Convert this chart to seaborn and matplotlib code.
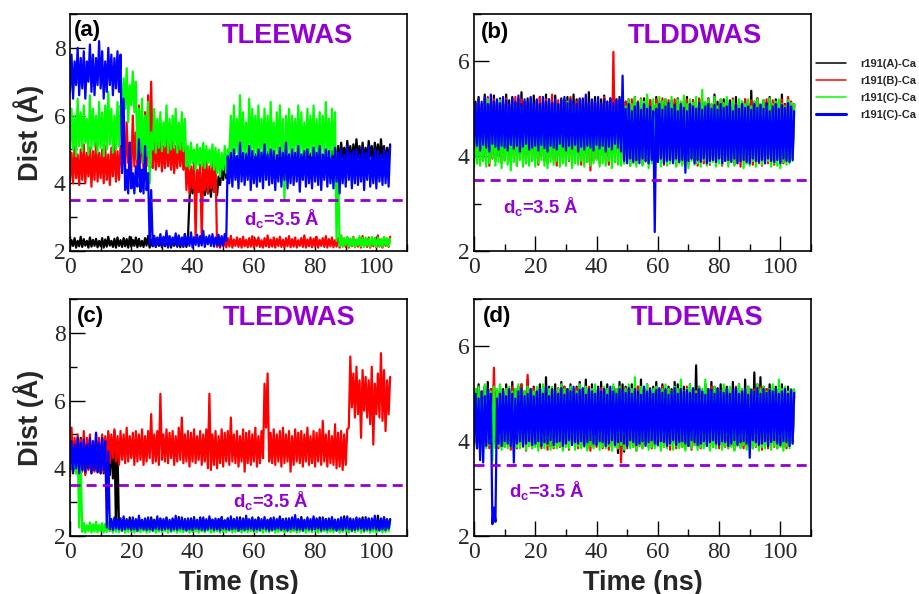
import numpy as np
import pandas as pd
import matplotlib
matplotlib.use("Agg")
import matplotlib.pyplot as plt
import seaborn as sns
from matplotlib.ticker import MultipleLocator

# ---------------- data ----------------
# For every 1 ns window: the lowest (lo) and highest (hi) distance of the trace.
time_ns = np.arange(0, 105)

# ---- panel (a) TLEEWAS ----
a_A_lo = [2.12,2.15,2.1,2.14,2.12,2.16,2.1,2.13,2.15,2.11,
          2.14,2.1,2.13,2.16,2.12,2.1,2.15,2.12,2.14,2.1,
          2.13,2.15,2.11,2.14,2.12,2.16,2.1,2.14,2.12,2.15,
          2.11,2.14,2.12,2.1,2.15,2.13,2.11,2.14,2.12,
          3.55,3.7,3.6,3.75,3.5,3.65,3.7,3.6,3.75,3.65,
          3.95,4.1,4.15,
          4.35,4.45,4.4,4.5,4.35,4.4,4.45,4.38,4.42,4.4,
          4.45,4.35,4.4,4.5,4.38,4.42,4.36,4.48,4.4,4.44,
          4.38,4.46,4.4,4.35,4.45,4.42,4.38,4.5,4.4,4.36,
          4.44,4.4,4.38,4.46,4.42,
          4.7,4.6,4.75,4.65,4.8,4.6,4.7,4.75,4.62,4.7,
          4.68,4.8,4.6,4.72,4.66,4.75,4.6,4.7]
a_A_hi = [2.32,2.38,2.3,2.42,2.35,2.3,2.4,2.33,2.36,2.3,
          2.38,2.34,2.42,2.3,2.36,2.4,2.32,2.38,2.35,2.42,
          2.33,2.4,2.36,2.3,2.38,2.45,2.34,2.4,2.36,2.3,
          2.38,2.34,2.42,2.36,2.3,2.4,2.35,2.5,2.38,
          4.1,4.25,4.0,4.3,4.15,4.2,4.05,4.3,4.1,4.2,
          4.5,4.6,4.55,
          4.85,4.9,4.8,4.92,4.85,4.88,4.8,4.9,4.86,4.82,
          4.9,4.85,4.92,4.8,4.88,4.84,4.9,4.82,4.88,4.85,
          4.92,4.8,4.88,4.84,4.9,4.82,4.88,4.92,4.82,4.9,
          4.84,4.9,4.85,4.95,5.0,
          5.1,5.2,5.05,5.25,5.1,5.15,5.3,5.1,5.2,5.05,
          5.25,5.1,5.2,5.15,5.3,5.1,5.05,5.15]
a_B_lo = [4.05,4.0,4.15,3.95,4.1,4.0,4.2,3.9,4.1,4.05,4.15,4.0,4.1,3.95,4.2,4.05,4.1,
          4.5,4.4,4.6,4.3,4.5,4.45,4.6,4.35,4.5,
          4.8,
          4.45,4.4,4.5,4.35,4.45,4.5,4.4,4.3,4.45,4.5,4.4,
          3.8,3.7,3.85,2.4,3.75,2.35,3.8,3.7,3.85,3.75,
          2.12,2.1,2.14,2.11,2.13,2.1,2.15,2.12,2.1,2.14,
          2.11,2.13,2.1,2.15,2.12,2.1,2.14,2.11,2.13,2.1,
          2.15,2.12,2.1,2.14,2.11,2.13,2.1,2.15,2.12,2.1,
          2.14,2.11,2.13,2.1,2.15,2.12,2.1,2.14,2.11,2.13,
          2.1,2.15,2.12,2.1,2.14,2.11,2.13,2.1,2.15,2.12,
          2.1,2.14,2.11,2.13,2.1,2.15,2.12]
a_B_hi = [4.9,5.1,4.85,5.0,5.15,4.9,5.05,4.95,5.2,4.9,5.0,5.1,4.85,5.05,5.2,4.95,5.1,
          5.3,5.8,5.2,6.0,5.5,6.3,5.6,6.1,6.6,
          7.0,
          5.4,5.2,5.3,5.1,5.35,5.2,5.25,5.1,5.3,5.2,5.15,
          4.6,4.5,4.65,4.4,4.55,4.6,4.7,4.5,4.6,4.65,
          2.35,2.4,2.32,2.38,2.45,2.34,2.4,2.36,2.42,2.33,
          2.38,2.44,2.35,2.4,2.32,2.38,2.46,2.34,2.4,2.36,
          2.42,2.33,2.38,2.44,2.35,2.4,2.32,2.38,2.46,2.34,
          2.4,2.36,2.42,2.33,2.38,2.44,2.35,2.4,2.32,2.38,
          2.46,2.34,2.4,2.36,2.42,2.33,2.38,2.44,2.35,2.4,
          2.32,2.38,2.46,2.34,2.4,2.36,2.42]
a_C_lo = [4.9,5.0,4.8,5.1,4.95,5.2,4.85,5.0,5.1,4.9,5.05,4.8,5.0,5.15,4.9,5.0,5.1,
          6.0,6.2,5.8,6.3,6.1,
          4.7,4.9,4.6,4.8,
          4.0,
          5.0,4.9,5.05,4.95,5.1,4.9,5.0,5.05,4.9,5.0,4.95,
          4.5,4.45,4.6,4.4,4.55,4.5,4.45,4.6,4.5,4.4,
          4.3,4.2,4.4,4.3,
          4.8,4.7,4.9,4.75,4.85,4.7,4.9,4.8,4.75,4.85,
          4.7,4.9,4.8,4.75,4.85,4.7,4.9,4.8,3.5,4.85,
          4.7,4.9,4.8,4.75,4.85,4.7,4.9,4.8,4.75,4.85,
          4.7,4.9,4.8,4.75,4.85,
          2.3,
          2.15,2.12,2.18,2.13,2.16,2.12,2.17,2.14,2.12,2.16,
          2.13,2.18,2.12,2.15,2.13,2.17,2.14]
a_C_hi = [6.2,6.0,6.5,6.1,6.3,5.9,6.6,6.2,6.0,6.4,6.1,6.3,6.7,6.2,6.0,6.4,6.3,
          7.1,7.4,6.9,7.3,7.0,
          6.2,6.5,6.0,6.4,
          5.5,
          6.2,5.9,6.1,5.8,6.3,5.9,6.0,6.2,5.8,6.1,5.9,
          5.1,5.2,5.0,5.15,5.05,5.2,5.1,5.0,5.15,5.05,
          5.0,4.9,5.1,5.0,
          6.0,6.3,5.9,6.6,6.1,5.8,6.5,6.2,6.0,6.3,
          5.9,6.2,6.0,6.4,5.8,6.1,6.3,5.9,6.0,6.2,
          6.0,5.9,6.3,6.1,5.8,6.2,6.0,6.3,5.9,6.1,
          6.0,6.4,5.9,6.2,6.1,
          4.6,
          2.45,2.38,2.42,2.36,2.4,2.35,2.44,2.38,2.4,2.36,
          2.42,2.37,2.4,2.35,2.41,2.38,2.36]
a_C2_lo = [6.7,6.5,6.9,6.6,6.8,6.5,7.0,6.7,6.6,6.9,6.8,6.5,6.7,6.9,6.6,6.8,6.7,
           4.3,
           3.8,3.7,3.85,3.7,3.9,3.75,3.7,3.8,
           2.2,
           2.15,2.12,2.2,2.14,2.18,2.1,2.16,2.2,2.13,2.17,
           2.12,2.19,2.15,2.1,2.18,2.14,2.16,2.12,2.2,2.15,
           2.13,2.18,2.14,2.16,
           2.3,
           4.0,3.9,4.1,3.85,4.05,3.95,4.1,3.8,4.0,3.9,
           4.05,3.85,4.1,3.95,4.0,3.8,4.05,3.9,4.1,3.85,
           4.0,3.95,4.05,3.75,4.1,3.9,4.0,3.85,4.05,3.95,
           3.8,4.1,3.9,4.0,3.85,4.05,3.7,4.0,3.9,4.1,
           3.85,4.0,3.95,4.05,3.8,4.1,3.9,4.0,3.85,4.05,
           3.95,4.0,3.9]
a_C2_hi = [7.8,7.6,8.0,7.7,7.9,7.6,8.1,7.8,7.7,8.2,7.9,7.6,8.0,7.8,7.7,7.9,7.8,
           6.5,
           4.4,5.2,4.3,4.5,5.3,4.4,5.1,4.3,
           3.8,
           2.45,2.4,2.5,2.42,2.6,2.44,2.4,2.52,2.46,2.4,
           2.5,2.42,2.55,2.4,2.48,2.44,2.6,2.42,2.46,2.5,
           2.4,2.48,2.44,2.5,
           4.8,
           4.9,5.0,4.8,5.2,4.9,4.85,5.1,4.95,4.8,5.0,
           4.9,5.15,4.85,5.0,4.95,4.8,5.05,4.9,5.2,4.85,
           5.0,4.9,5.1,4.85,4.95,5.0,4.8,5.05,4.9,5.1,
           4.85,5.0,4.95,4.8,5.05,4.9,5.0,4.85,5.1,4.9,
           4.95,5.0,4.85,5.05,4.9,5.1,4.8,5.0,4.95,4.85,
           5.0,4.9,5.1]

# ---- panel (b) TLDDWAS ----
b_A_lo = [4.1,4.05,4.2,4.0,4.15,4.1,4.05,4.2,4.0,4.12,
          4.08,4.18,4.02,4.15,4.1,4.05,4.2,4.0,4.14,4.08,
          4.16,4.04,4.1,4.2,4.02,4.12,4.06,4.18,4.0,4.1,
          4.15,4.05,4.2,4.08,4.0,4.12,4.06,4.18,4.02,4.1,
          4.14,4.04,4.2,4.08,4.0,4.16,4.06,4.12,4.02,4.1,
          4.0,3.95,4.05,3.9,4.0,3.95,4.1,3.92,4.02,3.98,
          4.05,3.9,4.0,3.96,4.08,3.92,4.02,3.95,4.06,3.9,
          4.0,3.95,4.05,3.92,4.02,3.98,4.08,3.9,4.0,3.96,
          4.05,3.92,4.02,3.95,4.06,3.9,4.0,3.98,4.05,3.92,
          4.02,3.96,4.08,3.9,4.0,3.95,4.05,3.92,4.02,3.98,
          4.06,3.9,4.0,3.96,4.1]
b_A_hi = [5.15,5.25,5.1,5.3,5.2,5.12,5.28,5.15,5.22,5.1,
          5.3,5.18,5.25,5.12,5.2,5.35,5.15,5.22,5.1,5.28,
          5.18,5.25,5.12,5.3,5.2,5.15,5.28,5.1,5.22,5.18,
          5.25,5.12,5.3,5.2,5.15,5.22,5.1,5.35,5.18,5.25,
          5.12,5.2,5.28,5.15,5.22,5.3,5.1,5.25,5.2,5.15,
          5.2,5.1,5.25,5.15,5.05,5.22,5.12,5.18,5.08,5.25,
          5.15,5.1,5.2,5.05,5.18,5.12,5.22,5.08,5.15,5.25,
          5.1,5.18,5.05,5.2,5.15,5.12,5.22,5.08,5.3,5.15,
          5.1,5.2,5.05,5.18,5.12,5.25,5.08,5.15,5.2,5.1,
          5.38,5.15,5.22,5.08,5.18,5.12,5.25,5.1,5.2,5.15,
          5.3,5.1,5.22,5.15,5.1]
b_B_lo = [3.95,3.85,4.0,3.9,4.05,3.8,3.95,3.9,4.0,3.85,
          3.92,4.02,3.88,3.95,3.8,4.0,3.9,3.85,3.98,3.9,
          3.95,3.82,4.0,3.9,3.85,3.98,3.92,3.8,4.0,3.88,
          3.95,3.9,3.85,4.0,3.92,3.82,3.95,3.88,3.7,3.9,
          3.95,3.85,4.0,3.9,3.82,3.95,3.88,4.0,3.9,3.85,
          3.95,3.8,3.9,3.85,3.98,3.82,3.9,3.85,3.95,3.8,
          3.88,3.95,3.82,3.9,3.85,3.98,3.8,3.92,3.85,3.9,
          3.82,3.95,3.88,3.8,3.92,3.85,3.98,3.82,3.9,3.85,
          3.95,3.8,3.9,3.85,3.98,3.82,3.9,3.78,3.92,3.85,
          3.9,3.82,3.95,3.85,3.8,3.92,3.85,3.9,3.82,3.95,
          3.88,3.85,3.92,3.9,3.95]
b_B_hi = [5.1,5.2,5.05,5.15,5.25,5.1,5.2,5.05,5.18,5.1,
          5.22,5.08,5.15,5.25,5.1,5.2,5.12,5.05,5.22,5.1,
          5.15,5.25,5.08,5.2,5.12,5.3,5.1,5.18,5.05,5.2,
          5.12,5.25,5.08,5.15,5.2,5.1,5.25,5.05,5.18,5.12,
          5.2,5.1,5.25,5.08,5.15,6.2,5.2,5.1,5.25,5.15,
          5.1,5.2,5.05,5.15,5.22,5.1,5.25,5.18,5.08,5.2,
          5.12,5.22,5.1,5.18,5.05,5.2,5.12,5.15,5.08,5.2,
          5.1,5.18,5.05,5.22,5.12,5.08,5.2,5.1,5.15,5.05,
          5.2,5.12,5.18,5.08,5.22,5.1,5.15,5.05,5.2,5.12,
          5.18,5.08,5.22,5.1,5.15,5.2,5.05,5.18,5.12,5.1,
          5.2,5.08,5.25,5.15,5.1]
b_C_lo = [3.75,3.85,3.8,3.9,3.78,3.85,3.95,3.8,3.88,3.75,
          3.9,3.82,3.7,3.88,3.8,3.92,3.78,3.85,3.8,3.9,
          3.78,3.85,3.92,3.8,3.75,3.88,3.82,3.9,3.78,3.85,
          3.8,3.92,3.75,3.85,3.82,3.9,3.78,3.88,3.8,3.85,
          3.92,3.78,3.85,3.8,3.9,3.75,3.88,3.82,3.8,3.85,
          3.9,3.8,3.85,3.78,3.92,3.8,3.88,3.75,3.85,3.82,
          3.9,3.78,3.88,3.8,3.85,3.92,3.78,3.85,3.8,3.88,
          3.75,3.9,3.82,3.85,3.78,3.92,3.8,3.85,3.88,3.78,
          3.85,3.82,3.9,3.78,3.88,3.8,3.85,3.92,3.75,3.85,
          3.8,3.9,3.78,3.88,3.82,3.85,3.9,3.78,3.85,3.8,
          3.75,3.88,3.82,3.85,3.9]
b_C_hi = [5.0,5.15,4.95,5.1,5.2,5.0,5.12,4.95,5.18,5.05,
          5.1,4.98,5.15,5.05,5.2,5.0,5.1,4.95,5.15,5.05,
          5.12,5.0,5.18,4.98,5.1,5.05,5.15,5.0,5.1,4.95,
          5.15,5.05,5.1,5.0,5.18,4.98,5.12,5.05,5.1,5.0,
          5.15,4.98,5.1,5.05,5.12,5.0,5.15,4.95,5.1,5.05,
          5.2,5.1,5.25,5.05,5.2,5.15,5.3,5.05,5.2,5.1,
          5.25,5.15,5.2,5.1,5.25,5.05,5.2,5.15,5.28,5.1,
          5.2,5.12,5.25,5.05,5.4,5.15,5.2,5.1,5.25,5.05,
          5.2,5.12,5.25,5.1,5.18,5.05,5.2,5.15,5.1,5.2,
          5.05,5.15,5.2,5.1,5.18,5.05,5.22,5.1,5.15,5.2,
          5.1,5.05,5.18,5.12,5.1]
b_C2_lo = [4.17,4.22,4.12,4.24,4.18,4.1,4.26,4.2,4.14,4.22,
           4.18,4.12,4.24,4.16,4.22,4.1,4.2,4.26,4.14,4.18,
           4.22,4.12,4.24,4.17,4.1,4.22,4.18,4.14,4.26,4.2,
           4.12,4.22,4.16,4.24,4.1,4.2,4.14,4.22,4.18,4.12,
           4.24,4.16,4.22,4.1,4.2,4.14,4.26,4.18,4.1,
           3.9,3.85,3.95,3.88,3.92,3.85,3.95,3.9,3.85,3.92,
           2.4,3.88,3.95,3.85,3.9,3.92,3.85,3.95,3.88,3.92,
           3.65,3.9,3.95,3.85,3.92,3.88,3.95,3.85,3.9,3.92,
           3.88,3.95,3.85,3.9,3.92,3.88,3.95,3.85,3.9,3.92,
           3.88,3.85,3.95,3.9,3.88,3.92,3.85,3.95,3.9,3.88,
           3.92,3.85,3.95,3.9,3.88,3.92]
b_C2_hi = [5.1,5.2,5.15,5.25,5.1,5.3,5.15,5.2,5.12,5.25,
           5.18,5.1,5.22,5.15,5.28,5.1,5.2,5.15,5.25,5.12,
           5.2,5.1,5.25,5.15,5.2,5.12,5.22,5.1,5.18,5.25,
           5.12,5.2,5.15,5.1,5.22,5.18,5.3,5.12,5.2,5.15,
           5.25,5.1,5.2,5.15,5.22,5.12,5.2,5.18,5.7,
           5.0,5.1,4.95,5.05,5.12,4.98,5.1,5.0,5.05,4.95,
           5.0,5.1,4.98,5.05,5.12,5.0,5.08,4.95,5.1,5.02,
           4.95,5.1,5.05,5.0,5.12,4.98,5.05,5.1,5.0,5.08,
           4.98,5.1,5.02,5.05,5.12,4.95,5.08,5.0,5.1,5.02,
           5.05,4.98,5.1,5.02,5.08,5.0,5.12,4.95,5.05,5.1,
           5.0,5.08,5.02,5.12,5.05,4.95]

# ---- panel (c) TLEDWAS ----
c_A_lo = [3.95,3.85,4.0,3.9,3.95,3.85,4.0,3.9,3.95,3.88,3.9,3.85,3.75,3.8,3.7,
          2.2,
          2.18,2.2,2.16,2.22,2.18,2.2,2.15,2.2,2.18,2.22,
          2.16,2.2,2.18,2.15,2.22,2.18,2.2,2.16,2.2,2.18,
          2.22,2.16,2.2,2.18,2.15,2.2,2.22,2.18,2.16,2.2,
          2.18,2.22,2.15,2.2,2.18,2.16,2.22,2.2,2.18,2.15,
          2.2,2.18,2.22,2.16,2.2,2.18,2.15,2.22,2.2,2.18,
          2.16,2.2,2.18,2.22,2.15,2.2,2.18,2.16,2.22,2.2,
          2.18,2.15,2.2,2.22,2.18,2.16,2.2,2.18,2.22,2.15,
          2.2,2.18,2.16,2.22,2.2,2.18,2.15,2.2,2.22,2.18,
          2.16,2.2,2.18,2.22,2.15,2.2,2.18,2.16,2.2]
c_A_hi = [4.7,4.8,4.6,4.9,4.75,4.65,4.85,4.7,4.8,4.6,4.9,4.75,5.0,4.85,5.1,
          4.6,
          2.45,2.5,2.42,2.55,2.48,2.44,2.52,2.46,2.5,2.42,
          2.55,2.48,2.44,2.5,2.46,2.52,2.42,2.5,2.48,2.56,
          2.44,2.5,2.46,2.52,2.48,2.42,2.55,2.5,2.46,2.52,
          2.48,2.44,2.5,2.56,2.46,2.52,2.42,2.5,2.48,2.55,
          2.46,2.52,2.44,2.5,2.48,2.55,2.42,2.5,2.46,2.52,
          2.48,2.44,2.55,2.5,2.46,2.52,2.42,2.5,2.48,2.56,
          2.44,2.5,2.46,2.52,2.48,2.55,2.42,2.5,2.46,2.52,
          2.48,2.44,2.5,2.58,2.46,2.52,2.42,2.5,2.48,2.55,
          2.46,2.52,2.44,2.5,2.6,2.48,2.55,2.46,2.5]
c_B_lo = [3.75,3.9,3.85,4.0,3.9,3.8,3.95,3.85,3.9,4.0,3.85,3.9,
          4.2,4.15,4.3,4.2,4.1,4.25,4.15,4.2,4.3,4.1,
          4.2,4.25,4.1,4.2,4.3,4.15,4.2,4.1,4.25,4.2,
          4.15,4.3,4.1,4.2,4.25,4.15,4.2,4.05,4.2,4.15,
          4.25,4.1,4.2,4.0,3.95,4.1,4.0,4.15,4.05,4.2,
          4.1,4.2,4.15,4.05,4.2,3.9,4.15,4.1,4.2,4.05,
          4.15,4.3,5.2,4.2,4.15,4.1,4.2,4.05,4.15,4.2,
          3.9,4.1,4.2,4.15,4.05,4.2,4.1,4.15,4.05,4.2,
          4.1,4.2,4.05,4.15,4.1,4.0,4.05,3.95,4.1,5.2,
          5.8,5.5,5.6,4.9,5.7,5.5,5.3,4.7,5.6,5.5,5.4,5.1,5.6]
c_B_hi = [5.2,4.9,5.0,4.85,5.1,4.9,5.0,4.8,5.05,4.9,5.0,4.95,
          5.1,5.0,5.15,4.95,5.1,5.0,5.2,4.95,5.05,5.1,
          5.0,5.15,4.95,5.1,5.6,5.0,5.1,6.2,5.0,5.15,
          5.05,5.1,4.95,5.2,5.5,5.0,5.1,5.05,5.15,4.95,
          5.1,5.0,5.15,6.2,5.0,5.1,4.95,5.15,5.05,5.1,
          5.5,5.0,5.1,4.95,5.15,5.05,5.1,5.0,5.2,4.95,
          5.1,6.5,6.8,5.05,5.15,5.0,5.1,5.2,5.0,5.1,
          4.95,5.15,5.05,5.1,5.0,5.2,4.95,5.1,5.05,5.15,
          5.4,5.0,5.1,4.95,5.3,5.05,5.1,5.0,5.15,7.3,
          6.8,7.0,6.6,6.9,6.7,6.6,7.0,6.5,6.8,7.4,6.9,6.6,6.7]
c_C_lo = [3.9,4.0,3.85,
          2.25,
          2.12,2.1,2.14,2.1,2.13,2.11,2.15,2.1,2.12,2.14,
          2.1,2.13,2.11,2.15,2.1,2.12,2.14,2.1,2.13,2.11,
          2.15,2.1,2.12,2.14,2.1,2.13,2.11,2.15,2.1,2.12,
          2.14,2.1,2.13,2.11,2.15,2.1,2.12,2.14,2.1,2.13,
          2.11,2.15,2.1,2.12,2.14,2.1,2.13,2.11,2.15,2.1,
          2.12,2.14,2.1,2.13,2.11,2.15,2.1,2.12,2.14,2.1,
          2.13,2.11,2.15,2.1,2.12,2.14,2.1,2.13,2.11,2.15,
          2.1,2.12,2.14,2.1,2.13,2.11,2.15,2.1,2.12,2.14,
          2.1,2.13,2.11,2.15,2.1,2.12,2.14,2.1,2.13,2.11,
          2.15,2.1,2.12,2.14,2.1,2.13,2.11,2.15,2.1,2.12,
          2.14]
c_C_hi = [4.5,4.4,4.6,
          4.2,
          2.38,2.32,2.4,2.35,2.42,2.33,2.38,2.36,2.4,2.34,
          2.38,2.42,2.33,2.36,2.4,2.35,2.38,2.32,2.42,2.36,
          2.34,2.4,2.38,2.33,2.42,2.36,2.35,2.4,2.38,2.32,
          2.42,2.36,2.34,2.4,2.38,2.45,2.36,2.35,2.4,2.38,
          2.32,2.42,2.36,2.34,2.4,2.38,2.33,2.42,2.36,2.35,
          2.4,2.38,2.32,2.42,2.36,2.34,2.4,2.38,2.33,2.42,
          2.36,2.35,2.4,2.38,2.32,2.42,2.36,2.34,2.4,2.38,
          2.33,2.42,2.36,2.35,2.4,2.38,2.32,2.42,2.36,2.34,
          2.4,2.38,2.33,2.42,2.36,2.35,2.4,2.38,2.32,2.42,
          2.36,2.34,2.4,2.38,2.33,2.42,2.36,2.35,2.4,2.38,
          2.36]
c_C2_lo = [3.95,3.9,4.0,3.85,3.95,3.9,4.0,3.85,3.95,3.9,3.85,3.95,
           2.25,
           2.2,2.18,2.22,2.2,2.16,2.2,2.22,2.18,2.2,2.16,
           2.22,2.2,2.18,2.2,2.16,2.22,2.2,2.18,2.2,2.22,
           2.16,2.2,2.18,2.22,2.2,2.16,2.2,2.18,2.22,2.2,
           2.18,2.16,2.2,2.22,2.18,2.2,2.16,2.22,2.2,2.18,
           2.2,2.22,2.16,2.2,2.18,2.2,2.22,2.16,2.2,2.18,
           2.22,2.2,2.16,2.18,2.2,2.22,2.18,2.2,2.16,2.2,
           2.22,2.18,2.2,2.16,2.22,2.2,2.18,2.2,2.22,2.16,
           2.2,2.18,2.22,2.2,2.16,2.2,2.18,2.22,2.2,2.16,
           2.18,2.2,2.22,2.16,2.2,2.18,2.22,2.2,2.16,2.2,
           2.18,2.22]
c_C2_hi = [4.8,4.7,4.9,4.75,4.85,4.7,4.9,4.8,5.05,4.75,4.9,4.8,
           4.5,
           2.5,2.55,2.48,2.52,2.58,2.5,2.46,2.55,2.5,2.6,
           2.48,2.52,2.55,2.5,2.46,2.58,2.52,2.5,2.55,2.48,
           2.52,2.6,2.5,2.55,2.48,2.52,2.5,2.56,2.48,2.52,
           2.55,2.5,2.58,2.48,2.52,2.5,2.55,2.46,2.52,2.58,
           2.5,2.55,2.48,2.52,2.6,2.5,2.55,2.48,2.52,2.5,
           2.56,2.48,2.52,2.55,2.5,2.58,2.48,2.52,2.5,2.55,
           2.62,2.5,2.52,2.48,2.55,2.5,2.58,2.52,2.48,2.55,
           2.5,2.52,2.56,2.48,2.5,2.55,2.52,2.58,2.48,2.5,
           2.55,2.52,2.48,2.56,2.5,2.52,2.6,2.48,2.52,2.55,
           2.5,2.48]

# ---- panel (d) TLDEWAS ----
d_A_lo = [4.0,3.95,4.05,3.98,4.02,3.95,4.05,4.0,3.98,4.02,
          3.92,4.05,4.0,3.96,4.02,3.95,4.08,4.0,3.98,4.02,
          3.95,4.05,4.0,3.98,4.02,3.9,4.05,4.0,3.98,4.06,
          3.95,4.05,4.0,3.98,4.02,3.95,4.05,3.92,3.98,4.02,
          3.95,4.05,4.0,3.98,4.02,3.95,4.05,3.75,3.72,3.78,
          3.95,4.05,4.0,3.98,4.02,3.95,4.05,4.0,3.98,4.02,
          3.95,4.05,4.0,3.98,4.02,3.95,4.05,4.0,3.98,4.02,
          3.9,4.05,4.0,3.98,3.9,3.95,4.05,4.0,3.98,4.02,
          3.95,3.9,4.0,3.98,4.02,3.95,4.05,4.0,3.98,3.92,
          3.95,4.05,4.0,3.98,4.02,3.95,4.05,4.0,3.98,4.02,
          3.95,4.05,4.0,3.98,4.02]
d_A_hi = [5.1,5.2,5.05,5.15,5.25,5.1,5.2,5.05,5.15,5.1,
          5.2,5.05,5.25,5.1,5.15,5.2,5.05,5.3,5.1,5.15,
          5.05,5.2,5.1,5.35,5.15,5.05,5.2,5.1,5.25,5.15,
          5.1,5.2,5.05,5.15,5.25,5.1,5.3,5.05,5.2,5.1,
          5.15,5.25,5.1,5.2,5.05,5.15,5.1,5.25,5.2,5.15,
          5.1,5.2,5.05,5.15,5.3,5.1,5.2,5.05,5.15,5.25,
          5.1,5.2,5.05,5.15,5.1,5.25,5.2,5.1,5.15,5.05,
          5.2,5.1,5.6,5.15,5.05,5.2,5.1,5.25,5.15,5.1,
          5.2,5.05,5.15,5.1,5.25,5.1,5.2,5.05,5.3,5.15,
          5.1,5.45,5.2,5.35,5.15,5.1,5.2,5.05,5.15,5.1,
          5.2,5.05,5.15,5.1,5.05]
d_B_lo = [3.9,3.85,3.95,3.88,3.92,3.85,3.9,3.95,3.85,3.9,
          3.88,3.95,3.82,3.9,3.85,3.92,3.88,3.8,3.9,3.85,
          3.92,3.88,3.85,3.95,3.82,3.9,3.85,3.92,3.88,3.85,
          3.9,3.82,3.95,3.88,3.85,3.9,3.92,3.85,3.8,3.9,
          3.88,3.95,3.85,3.9,3.82,3.88,3.92,3.85,3.55,3.9,
          3.85,3.92,3.88,3.8,3.9,3.85,3.95,3.88,3.85,3.9,
          3.92,3.85,3.88,3.9,3.82,3.95,3.85,3.9,3.88,3.85,
          3.9,3.82,3.92,3.88,3.85,3.9,3.95,3.85,3.88,3.9,
          3.85,3.92,3.88,3.85,3.9,3.82,3.95,3.88,3.85,3.9,
          3.92,3.85,3.88,3.9,3.82,3.9,3.85,3.92,3.88,3.85,
          3.9,3.88,3.85,3.92,3.95]
d_B_hi = [5.0,5.1,5.05,5.15,5.0,5.1,5.55,5.05,5.12,5.0,
          5.1,5.05,5.15,5.0,5.08,5.2,5.05,5.4,5.0,5.12,
          5.05,5.1,5.0,5.15,5.05,5.1,5.0,5.12,5.05,5.15,
          5.0,5.1,5.05,5.12,5.0,5.1,5.05,5.15,5.0,5.1,
          5.05,5.12,5.0,5.1,5.05,5.15,5.0,5.1,5.05,5.12,
          5.0,5.1,5.05,5.15,5.0,5.1,5.05,5.12,5.0,5.1,
          5.05,5.15,5.0,5.1,5.05,5.12,5.0,5.1,5.05,5.15,
          5.0,5.1,5.05,5.12,5.0,5.1,5.05,5.15,5.0,5.1,
          5.05,5.12,5.0,5.1,5.05,5.15,5.0,5.1,5.05,5.12,
          5.0,5.1,5.05,5.15,5.0,5.1,5.05,5.12,5.0,5.1,
          5.05,5.12,5.0,5.1,4.95]
d_C_lo = [3.85,3.9,3.8,3.88,3.85,3.92,3.6,3.85,3.9,3.82,
          3.88,3.85,3.9,3.8,3.88,3.85,3.92,3.82,3.9,3.85,
          3.88,3.8,3.9,3.85,3.92,3.82,3.88,3.85,3.9,3.8,
          3.88,3.85,3.92,3.82,3.9,3.85,3.88,3.8,3.9,3.85,
          3.92,3.82,3.88,3.85,3.9,3.8,3.88,3.85,3.92,3.82,
          3.9,3.85,3.88,3.8,3.9,3.85,3.92,3.82,3.88,3.85,
          3.9,3.8,3.88,3.85,3.92,3.82,3.9,3.85,3.88,3.8,
          3.9,3.85,3.92,3.82,3.88,3.85,3.9,3.8,3.88,3.85,
          3.92,3.82,3.9,3.85,3.88,3.8,3.9,3.85,3.92,3.82,
          3.88,3.85,3.9,3.8,3.88,3.85,3.92,3.82,3.9,3.85,
          3.88,3.8,3.9,3.85,3.95]
d_C_hi = [5.1,5.15,5.05,5.2,5.1,5.05,5.15,5.1,5.2,5.05,
          5.1,5.15,5.05,5.1,5.2,5.1,5.05,5.15,5.1,5.05,
          5.15,5.1,5.2,5.05,5.1,5.15,5.05,5.1,5.2,5.1,
          5.05,5.15,5.1,5.05,5.2,5.1,5.15,5.05,5.1,5.2,
          5.1,5.05,5.15,5.1,5.05,5.2,5.1,5.15,5.05,5.1,
          5.2,5.1,5.35,5.05,5.15,5.1,5.2,5.05,5.1,5.15,
          5.05,5.1,5.2,5.1,5.05,5.15,5.1,5.3,5.05,5.1,
          5.2,5.1,5.05,5.15,5.1,5.3,5.1,5.05,5.15,5.1,
          5.05,5.2,5.1,5.15,5.05,5.1,5.2,5.1,5.05,5.15,
          5.1,5.05,5.2,5.1,5.15,5.05,5.1,5.2,5.1,5.3,
          5.1,5.15,5.05,5.1,5.1]
d_C2_lo = [3.95,3.85,3.6,3.55,3.9,3.95,2.25,2.3,3.95,3.9,
           4.0,3.95,3.9,3.55,3.95,4.0,3.9,3.95,4.0,3.92,
           3.95,4.0,3.9,3.98,3.95,4.02,3.92,3.98,4.0,3.9,
           3.95,4.02,3.92,3.98,3.95,4.0,3.9,3.98,4.02,3.95,
           3.92,4.0,3.98,3.9,3.95,4.02,3.92,3.98,4.0,3.95,
           3.9,4.02,3.98,3.92,3.95,4.0,3.9,3.98,4.02,3.95,
           3.92,4.0,3.98,3.9,3.95,4.02,3.92,3.98,4.0,3.95,
           3.9,4.02,3.98,3.92,3.95,4.0,3.9,3.98,4.02,3.95,
           3.92,4.0,3.98,3.9,3.95,4.02,3.92,3.98,4.0,3.95,
           3.65,4.02,3.98,3.92,3.95,4.0,3.9,3.98,4.02,3.95,
           3.92,4.0,3.98,3.9,3.95]
d_C2_hi = [5.0,4.9,5.05,4.95,5.1,5.0,2.6,4.9,5.0,5.05,
           4.95,5.1,5.0,4.9,5.05,5.1,4.95,5.0,5.1,4.95,
           5.05,5.1,5.0,5.15,4.95,5.1,5.05,5.0,5.12,4.98,
           5.1,5.05,5.15,5.0,5.08,5.12,4.98,5.1,5.05,5.0,
           5.12,5.05,5.1,4.98,5.15,5.05,5.0,5.1,5.08,5.02,
           5.12,5.0,5.1,5.05,4.98,5.15,5.05,5.1,5.0,5.08,
           5.12,5.02,5.1,4.98,5.05,5.12,5.0,5.1,5.05,5.08,
           5.02,5.12,5.0,5.1,5.05,4.98,5.1,5.08,5.0,5.12,
           5.05,5.02,5.1,5.0,5.08,5.12,5.0,5.05,5.1,4.98,
           5.08,5.05,5.12,5.0,5.1,5.02,5.08,5.05,5.1,5.0,
           5.05,5.1,5.0,5.08,5.02]

series_labels = ["r191(A)-Ca", "r191(B)-Ca", "r191(C)-Ca", "r191(C)-Ca"]
series_colors = ["#000000", "#ff0000", "#00ff00", "#0000ff"]
panel_tags = ["(a)", "(b)", "(c)", "(d)"]
panel_names = ["TLEEWAS", "TLDDWAS", "TLEDWAS", "TLDEWAS"]
panel_series = [
    [(a_A_lo, a_A_hi), (a_B_lo, a_B_hi), (a_C_lo, a_C_hi), (a_C2_lo, a_C2_hi)],
    [(b_A_lo, b_A_hi), (b_B_lo, b_B_hi), (b_C_lo, b_C_hi), (b_C2_lo, b_C2_hi)],
    [(c_A_lo, c_A_hi), (c_B_lo, c_B_hi), (c_C_lo, c_C_hi), (c_C2_lo, c_C2_hi)],
    [(d_A_lo, d_A_hi), (d_B_lo, d_B_hi), (d_C_lo, d_C_hi), (d_C2_lo, d_C2_hi)],
]
cutoff = 3.5
cutoff_label = r"d$_\mathbf{c}$=3.5 Å"

for pi, grp in enumerate(panel_series):
    for si, (lo, hi) in enumerate(grp):
        assert len(lo) == len(time_ns), f"panel {pi} series {si} lo {len(lo)}"
        assert len(hi) == len(time_ns), f"panel {pi} series {si} hi {len(hi)}"


def trace_frame(lo, hi):
    """Trace within each 1 ns window: low value, then high value half way."""
    t = np.column_stack([time_ns, time_ns + 0.5]).ravel()
    y = np.column_stack([lo, hi]).ravel()
    return pd.DataFrame({"time": t, "dist": y})


# ---------------- styling ----------------
sns.set_style("white")
plt.rcParams["font.family"] = ["Liberation Sans", "DejaVu Sans"]
plt.rcParams["mathtext.fontset"] = "custom"
plt.rcParams["mathtext.bf"] = "Liberation Sans:bold"
plt.rcParams["mathtext.rm"] = "Liberation Sans"

PURPLE = "#9400d3"
fig = plt.figure(figsize=(9.2, 5.94), dpi=100)

W, H = 920, 594
def rect(l, t, r, b):
    return [l / W, 1 - b / H, (r - l) / W, (b - t) / H]

positions = [rect(70, 14, 407, 251), rect(474, 14, 811, 251),
             rect(70, 299, 407, 536), rect(474, 299, 811, 536)]
ylims = [(2, 9), (2, 7), (2, 9), (2, 7)]
tag_pos = [(0.053, 0.932), (0.062, 0.924), (0.061, 0.928), (0.067, 0.928)]
name_pos = [(0.644, 0.907), (0.656, 0.907), (0.651, 0.92), (0.662, 0.92)]
dc_pos = [(0.516, 0.139), (0.086, 0.186), (0.483, 0.148), (0.104, 0.194)]

axes = []
for i in range(4):
    ax = fig.add_axes(positions[i])
    axes.append(ax)
    for (lo, hi), lab, col in zip(panel_series[i], series_labels, series_colors):
        df = trace_frame(lo, hi)
        sns.lineplot(data=df, x="time", y="dist", color=col, lw=1.6, ax=ax,
                     label=lab, estimator=None, sort=False)
    ax.axhline(cutoff, color=PURPLE, lw=2, linestyle=(0, (3.6, 2.2)))
    ax.set_xlim(0, 110)
    ax.set_ylim(*ylims[i])
    ax.xaxis.set_major_locator(MultipleLocator(20))
    ax.xaxis.set_minor_locator(MultipleLocator(10))
    ax.yaxis.set_major_locator(MultipleLocator(2))
    ax.yaxis.set_minor_locator(MultipleLocator(1))
    ax.tick_params(which="both", direction="in", top=False, right=False,
                   bottom=True, left=True, width=1.0, color="black")
    ax.tick_params(which="major", length=11)
    ax.tick_params(which="minor", length=5)
    ax.tick_params(axis="y", pad=3)
    ax.tick_params(axis="x", pad=4)
    for lab in ax.get_xticklabels() + ax.get_yticklabels():
        lab.set_fontfamily("Liberation Serif")
        lab.set_fontsize(17)
    for sp in ax.spines.values():
        sp.set_linewidth(1.2)
        sp.set_color("black")
    ax.set_xlabel("")
    ax.set_ylabel("")
    ax.text(*tag_pos[i], panel_tags[i], transform=ax.transAxes, ha="center",
            va="center", fontsize=16, fontweight="bold", color="black")
    ax.text(*name_pos[i], panel_names[i], transform=ax.transAxes, ha="center",
            va="center", fontsize=19.5, fontweight="bold", color=PURPLE)
    ax.text(*dc_pos[i], cutoff_label, transform=ax.transAxes, ha="left",
            va="center", fontsize=13.3, fontweight="bold", color=PURPLE)
    if ax.get_legend() is not None:
        ax.get_legend().remove()

for ax in (axes[0], axes[2]):
    ax.set_ylabel("Dist (Å)", fontsize=19.5, fontweight="bold", labelpad=7)
for ax in (axes[2], axes[3]):
    ax.set_xlabel("Time (ns)", fontsize=19.5, fontweight="bold", labelpad=5)

handles, labels = axes[1].get_legend_handles_labels()
leg = fig.legend(handles, labels, loc="upper left",
                 bbox_to_anchor=(816 / W, 1 - 59 / H), frameon=False,
                 prop={"family": "Liberation Sans", "weight": "bold", "size": 8},
                 handlelength=2.7, handletextpad=1.3, labelspacing=0.62,
                 borderpad=0, borderaxespad=0)
for j, ln in enumerate(leg.get_lines()):
    ln.set_linewidth(2.2 if j == 3 else 1.1)

fig.savefig("out.png", dpi=100)
